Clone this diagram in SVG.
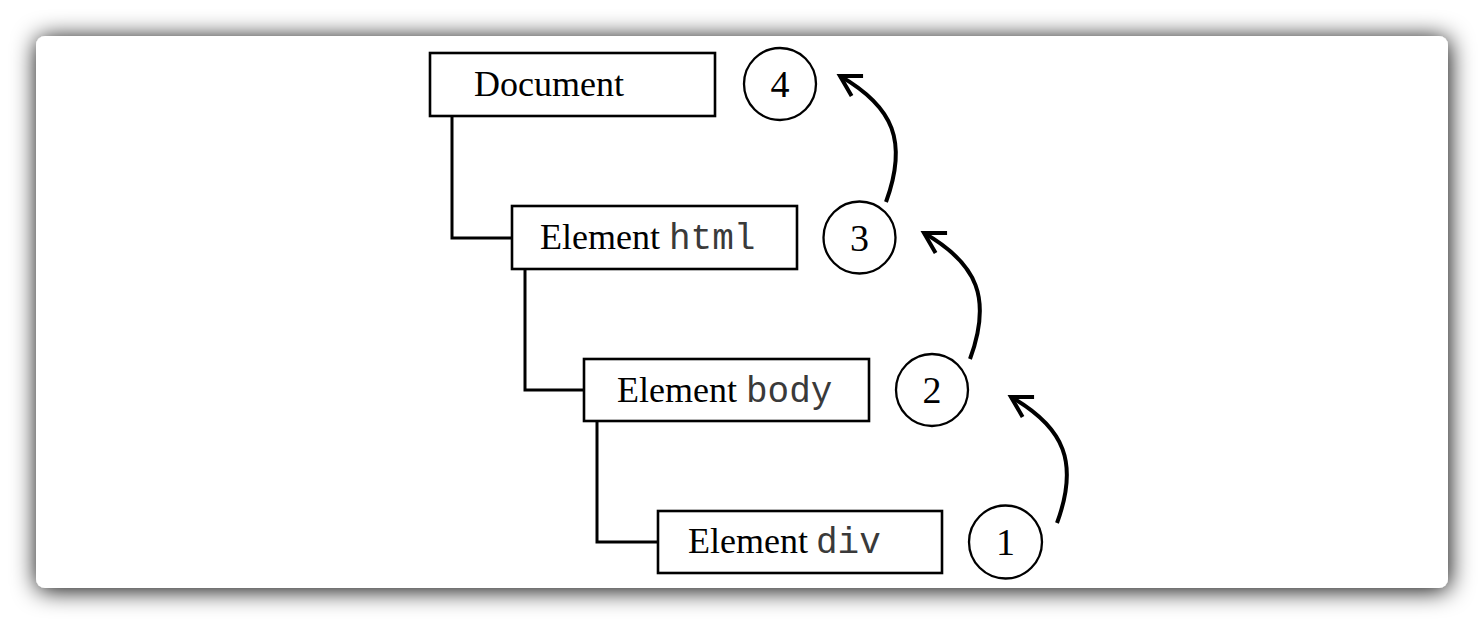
<svg xmlns="http://www.w3.org/2000/svg" width="1484" height="624" viewBox="0 0 1484 624">
  <style>
    .box { fill: #ffffff; stroke: #000000; stroke-width: 2.6; }
    .num { fill: #ffffff; stroke: #000000; stroke-width: 2.3; }
    .serif { font-family: "Liberation Serif", "Times New Roman", serif; font-size: 36px; fill: #000000; }
    .mono { font-family: "Liberation Mono", "Courier New", monospace; font-size: 36px; fill: #3a3a3a; }
    .numtxt { font-family: "Liberation Serif", "Times New Roman", serif; font-size: 38px; fill: #000000; text-anchor: middle; }
    .link { fill: none; stroke: #000000; stroke-width: 3; }
    .arrow { fill: none; stroke: #000000; stroke-width: 4; marker-end: url(#head); }
  </style>
  <defs>
    <filter id="shadow" x="-10%" y="-20%" width="120%" height="140%">
      <feDropShadow dx="1" dy="2" stdDeviation="12" flood-color="#000000" flood-opacity="1"/>
    </filter>
    <marker id="head" markerUnits="userSpaceOnUse" markerWidth="40" markerHeight="40" viewBox="-30 -20 40 40" refX="0" refY="0" orient="auto">
      <path d="M-20,-11.5 L0,0 L-20,11.5" fill="none" stroke="#000000" stroke-width="4" stroke-linejoin="miter"/>
    </marker>
  </defs>

  <rect id="card" x="36" y="36" width="1412" height="552" rx="9" ry="9" fill="#ffffff" filter="url(#shadow)"/>

  <g id="connectors">
    <polyline class="link" points="452,116 452,238 512,238"/>
    <polyline class="link" points="525,269 525,390 584,390"/>
    <polyline class="link" points="597,421 597,542 658,542"/>
    <path class="arrow" d="M1057,523 c22,-60 8,-95 -46,-126"/>
    <path class="arrow" d="M970,359 c22,-60 8,-95 -46,-126"/>
    <path class="arrow" d="M886,202 c22,-60 8,-95 -46,-126"/>
  </g>

  <g id="node-document">
    <rect class="box" x="430" y="53" width="285" height="63"/>
    <text class="serif" x="474" y="96">Document</text>
  </g>
  <g id="node-html">
    <rect class="box" x="512" y="206" width="285" height="63"/>
    <text x="540" y="249"><tspan class="serif">Element</tspan><tspan class="mono" x="669">html</tspan></text>
  </g>
  <g id="node-body">
    <rect class="box" x="584" y="359" width="285" height="62"/>
    <text x="617" y="402"><tspan class="serif">Element</tspan><tspan class="mono" x="746">body</tspan></text>
  </g>
  <g id="node-div">
    <rect class="box" x="658" y="511" width="284" height="62"/>
    <text x="688" y="553"><tspan class="serif">Element</tspan><tspan class="mono" x="816">div</tspan></text>
  </g>

  <g id="step-4">
    <circle class="num" cx="780" cy="84" r="36"/>
    <text class="numtxt" x="780" y="97">4</text>
  </g>
  <g id="step-3">
    <circle class="num" cx="859.5" cy="237.5" r="36"/>
    <text class="numtxt" x="859.5" y="250.5">3</text>
  </g>
  <g id="step-2">
    <circle class="num" cx="932" cy="390" r="36"/>
    <text class="numtxt" x="932" y="403">2</text>
  </g>
  <g id="step-1">
    <circle class="num" cx="1005.5" cy="542" r="36.5"/>
    <text class="numtxt" x="1005.5" y="555">1</text>
  </g>
</svg>
